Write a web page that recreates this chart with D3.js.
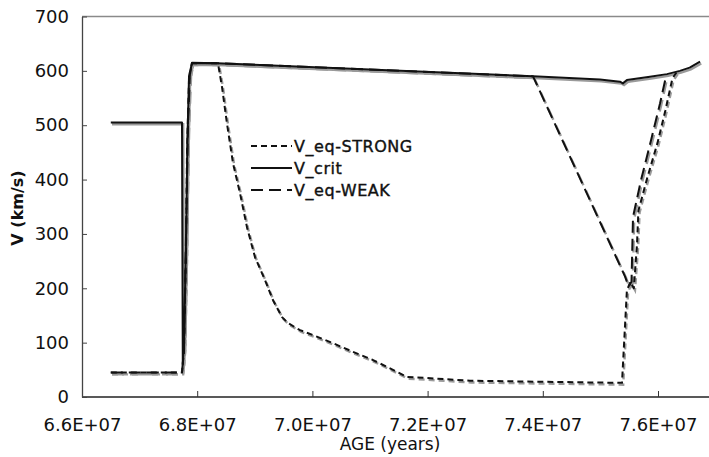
<!DOCTYPE html>
<html>
<head>
<meta charset="utf-8">
<script src="https://cdn.jsdelivr.net/npm/d3@7"></script>
<style>
  body { margin: 0; background: #fff; }
  text { font-family: "DejaVu Sans", Verdana, sans-serif; fill: #111; }
</style>
</head>
<body>
<div id="chart"></div>
<script>
const xTicks = [6.6e7, 6.8e7, 7.0e7, 7.2e7, 7.4e7, 7.6e7];
const yTicks = [0, 100, 200, 300, 400, 500, 600, 700];

const critAge = [6.65e7, 6.7736e7, 6.775e7, 6.7771e7, 6.7806e7, 6.783e7, 6.7858e7, 6.791e7, 6.8344e7,
  7.383e7, 7.4993e7, 7.534e7, 7.539e7, 7.546e7, 7.586e7, 7.6156e7, 7.638e7, 7.655e7, 7.673e7];
const critV = [505, 505, 60, 100, 285, 470, 590, 615, 614,
  590, 584, 580, 577, 583, 589, 594, 600, 606, 617];

const strongAge = [6.65e7, 6.7736e7, 6.7771e7, 6.7806e7, 6.7823e7, 6.7858e7, 6.791e7, 6.8361e7,
  6.8431e7, 6.8517e7, 6.8622e7, 6.8743e7, 6.8865e7, 6.9004e7, 6.9178e7, 6.9316e7, 6.9473e7,
  6.9576e7, 6.9785e7, 7.0011e7, 7.0358e7, 7.0705e7, 7.1052e7, 7.1399e7, 7.1642e7, 7.1990e7,
  7.2736e7, 7.4e7, 7.5375e7,
  7.546e7, 7.552e7, 7.558e7, 7.5635e7, 7.566e7, 7.5816e7, 7.599e7, 7.6128e7, 7.625e7, 7.632e7];
const strongV = [45, 45, 86, 270, 454, 584, 614, 614,
  570, 503, 430, 375, 312, 257, 215, 178, 147,
  136, 123, 114, 99, 83, 68, 50, 37, 35,
  30, 28, 26,
  196, 212, 200, 280, 343, 404, 467, 527, 586, 597];

const weakAge = [6.65e7, 6.7736e7, 6.7771e7, 6.7806e7, 6.784e7, 6.7875e7, 6.791e7, 6.8344e7,
  7.383e7, 7.5427e7, 7.549e7, 7.554e7, 7.5566e7, 7.5705e7, 7.5878e7, 7.6035e7, 7.6139e7];
const weakV = [45, 45, 90, 300, 500, 600, 614, 614,
  590, 222, 203, 212, 331, 399, 472, 540, 590];

const seriesNames = ["V_eq-STRONG", "V_crit", "V_eq-WEAK"];
const dashes = ["6,4", null, "12,6"];

const W = 709, H = 457;
const margin = { left: 82, top: 16.5, bottom: 397 };

const svg = d3.select("#chart").append("svg")
  .attr("width", W)
  .attr("height", H);

const x = d3.scaleLinear().domain([6.6e7, 7.8e7]).range([margin.left, margin.left + 6 * 115.2]);
const y = d3.scaleLinear().domain([0, 700]).range([margin.bottom, margin.top]);

svg.append("defs").append("clipPath").attr("id", "plot")
  .append("rect")
  .attr("x", margin.left).attr("y", margin.top - 4)
  .attr("width", W - margin.left).attr("height", margin.bottom - margin.top + 4);

// frame
svg.append("line")
  .attr("x1", margin.left).attr("x2", W).attr("y1", margin.top).attr("y2", margin.top)
  .attr("stroke", "#8a8a8a").attr("stroke-width", 1.5);

const fmt = (v) => (v / 1e7).toFixed(1) + "E+07";

const xAxis = svg.append("g")
  .attr("transform", `translate(0,${margin.bottom})`)
  .call(d3.axisBottom(x).tickValues(xTicks).tickFormat(fmt).tickSizeInner(-6).tickSizeOuter(0));
xAxis.select(".domain").attr("d", `M${margin.left},0H${W}`).attr("stroke", "#222").attr("stroke-width", 1.3);
xAxis.selectAll(".tick line").attr("stroke", "#333");
xAxis.selectAll("text").attr("y", 21).style("font-size", "18px").attr("fill", "#111");

const yAxis = svg.append("g")
  .attr("transform", `translate(${margin.left},0)`)
  .call(d3.axisLeft(y).tickValues(yTicks).tickSizeInner(-5).tickSizeOuter(0));
yAxis.select(".domain").attr("stroke", "#444").attr("stroke-width", 1.3);
yAxis.selectAll(".tick line").attr("stroke", "#444");
yAxis.selectAll("text").attr("x", -13).style("font-size", "18px").attr("fill", "#111");

svg.append("text")
  .attr("x", 390).attr("y", 450)
  .attr("text-anchor", "middle")
  .style("font-size", "17px")
  .text("AGE (years)");

svg.append("text")
  .attr("transform", `translate(23,208) rotate(-90)`)
  .attr("text-anchor", "middle")
  .style("font-size", "16px")
  .style("font-weight", "bold")
  .text("V (km/s)");

const line = d3.line().x((d) => x(d[0])).y((d) => y(d[1]));

const series = [
  d3.zip(strongAge, strongV),
  d3.zip(critAge, critV),
  d3.zip(weakAge, weakV)
];

const g = svg.append("g").attr("clip-path", "url(#plot)");

series.forEach((pts, i) => {
  g.append("path")
    .attr("d", line(pts))
    .attr("transform", "translate(1.2,1.8)")
    .attr("fill", "none")
    .attr("stroke", "#9a9a9a")
    .attr("stroke-width", 2.4)
    .attr("stroke-dasharray", dashes[i]);
});

series.forEach((pts, i) => {
  g.append("path")
    .attr("d", line(pts))
    .attr("fill", "none")
    .attr("stroke", "#111")
    .attr("stroke-width", 2)
    .attr("stroke-linejoin", "round")
    .attr("stroke-dasharray", dashes[i]);
});

const legend = svg.selectAll(".legend")
  .data(seriesNames)
  .enter()
  .append("g")
  .attr("class", "legend")
  .attr("transform", (_, i) => `translate(251,${146 + i * 22})`);

legend.append("line")
  .attr("x1", 0).attr("x2", 41)
  .attr("stroke", "#111")
  .attr("stroke-width", 2)
  .attr("stroke-dasharray", (_, i) => dashes[i]);

legend.append("text")
  .attr("x", 43)
  .attr("y", 6)
  .style("font-size", "16px")
  .style("letter-spacing", "0.55px")
  .attr("stroke", "#111")
  .attr("stroke-width", 0.4)
  .text((d) => d);
</script>
</body>
</html>
